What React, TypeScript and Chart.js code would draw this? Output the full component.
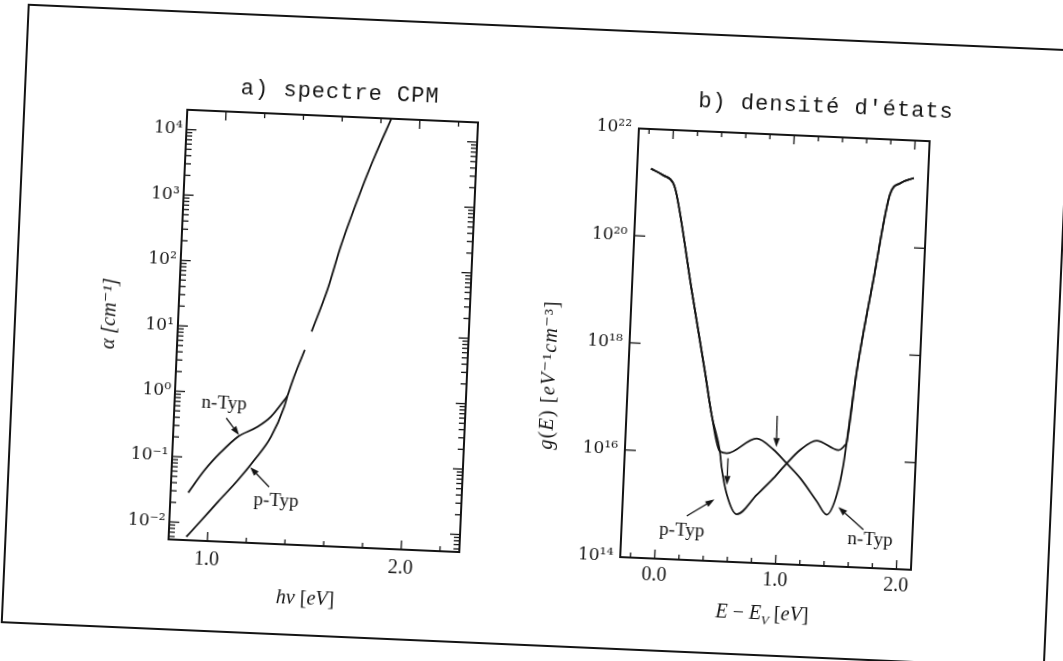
import React, { useEffect, useRef } from "react";
import { Chart, registerables } from "chart.js";

Chart.register(...registerables);

// ---------------- Panel a) spectre CPM ----------------
const cpmNTypEnergy = [0.891, 0.97, 1.052, 1.134, 1.234, 1.3, 1.365, 1.38];
const cpmNTypAlpha = [0.0288, 0.065, 0.127, 0.221, 0.324, 0.471, 0.863, 1.0];
const cpmPTypEnergy = [0.891, 0.965, 1.046, 1.144, 1.224, 1.305, 1.366, 1.38];
const cpmPTypAlpha = [0.00607, 0.0111, 0.0218, 0.0482, 0.1, 0.233, 0.681, 1.0];
const cpmCommonEnergy = [1.38, 1.41, 1.459, 1.475, 1.49, 1.562, 1.621, 1.726, 1.779, 1.853];
const cpmCommonAlpha = [1.0, 1.99, 5.18, null, 10.0, 44.2, 209, 2000, 5500, 20000];

const cpmXTicks = [1.0, 2.0];
const cpmXTickLabels = ["1.0", "2.0"];
const cpmXMinorTicks = [1.2, 1.4, 1.6, 1.8, 2.2];
const cpmYTicks = [1e-2, 1e-1, 1, 10, 100, 1000, 1e4];
const cpmYTickLabels = ["10⁻²", "10⁻¹", "10⁰", "10¹", "10²", "10³", "10⁴"];

const cpmArrowFromE = [1.07, 1.306];
const cpmArrowFromA = [0.419, 0.0398];
const cpmArrowToE = [1.14, 1.204];
const cpmArrowToA = [0.235, 0.0776];
const cpmLabelText = ["n-Typ", "p-Typ"];
const cpmLabelE = [1.056, 1.345];
const cpmLabelA = [0.684, 0.0245];

// ---------------- Panel b) densité d'états ----------------
const dosValenceEnergy = [-0.171, -0.068, 0.018, 0.05, 0.209, 0.349, 0.42, 0.5];
const dosValenceG = [1.82e21, 1.41e21, 1.02e21, 6.3e20, 1.07e19, 3.24e17, 5.13e16, 1.12e16];
const dosPTypEnergy = [0.521, 0.573, 0.662, 0.82, 0.951, 1.056, 1.161, 1.296, 1.478, 1.531];
const dosPTypG = [5.5e15, 1.78e15, 7.8e14, 1.86e15, 3.9e15, 7.6e15, 1.38e16, 2.14e16, 1.48e16, 1.86e16];
const dosNTypEnergy = [0.557, 0.8, 0.94, 1.056, 1.172, 1.318, 1.405, 1.481, 1.524];
const dosNTypG = [1.05e16, 2.09e16, 1.35e16, 7.6e15, 4.17e15, 1.58e15, 9.1e14, 2.19e15, 7.8e15];
const dosConductionEnergy = [1.544, 1.6, 1.705, 1.811, 1.89, 2.003];
const dosConductionG = [2.14e16, 4.27e17, 2.29e19, 9.3e20, 1.55e21, 2.0e21];

const dosXTicks = [0, 1, 2];
const dosXTickLabels = ["0.0", "1.0", "2.0"];
const dosXMinorTicks = [-0.2, 0.2, 0.4, 0.6, 0.8, 1.2, 1.4, 1.6, 1.8];
const dosYTicks = [1e14, 1e16, 1e18, 1e20, 1e22];
const dosYTickLabels = ["10¹⁴", "10¹⁶", "10¹⁸", "10²⁰", "10²²"];

const dosArrowFromE = [0.96, 0.57, 0.25, 1.713];
const dosArrowFromG = [5.75e16, 8.5e15, 6.6e14, 5.1e14];
const dosArrowToE = [0.965, 0.57, 0.472, 1.498];
const dosArrowToG = [1.5e16, 2.7e15, 1.41e15, 1.29e15];
const dosLabelText = ["p-Typ", "n-Typ"];
const dosLabelE = [0.214, 1.772];
const dosLabelG = [3.5e14, 3.3e14];

const INK = "#141414";
const SERIF = "'Liberation Serif', 'DejaVu Serif', serif";
const SERIF_SUP = "'DejaVu Serif', 'Liberation Serif', serif";

type Decor = {
  name: string;
  xMajor: number[];
  xMinor: number[];
  yMajor: number[];
  yMinor: number[];
  xMajorLen: number;
  xMinorLen: number;
  yMajorLen: number;
  yMinorLen: number;
  arrows: { fx: number; fy: number; tx: number; ty: number }[];
  labels: { text: string; x: number; y: number }[];
};

function decorPlugin(d: Decor) {
  return {
    id: "decor_" + d.name,
    afterDatasetsDraw(chart: any) {
      const { ctx, chartArea: a } = chart;
      const xs = chart.scales.x;
      const ys = chart.scales.y;
      ctx.save();
      ctx.strokeStyle = INK;
      ctx.fillStyle = INK;
      const seg = (x1: number, y1: number, x2: number, y2: number) => {
        ctx.beginPath();
        ctx.moveTo(x1, y1);
        ctx.lineTo(x2, y2);
        ctx.stroke();
      };
      ctx.lineWidth = 1.3;
      const xt = (vals: number[], len: number) =>
        vals.forEach((v) => {
          const p = xs.getPixelForValue(v);
          if (p < a.left + 1 || p > a.right - 1) return;
          seg(p, a.bottom, p, a.bottom - len);
          seg(p, a.top, p, a.top + len);
        });
      const yt = (vals: number[], len: number) =>
        vals.forEach((v) => {
          const p = ys.getPixelForValue(v);
          if (p < a.top + 1 || p > a.bottom - 1) return;
          seg(a.left, p, a.left + len, p);
          seg(a.right, p, a.right - len, p);
        });
      xt(d.xMajor, d.xMajorLen);
      xt(d.xMinor, d.xMinorLen);
      yt(d.yMajor, d.yMajorLen);
      yt(d.yMinor, d.yMinorLen);
      ctx.lineWidth = 2;
      ctx.strokeRect(a.left, a.top, a.right - a.left, a.bottom - a.top);

      // arrows
      ctx.lineWidth = 1.3;
      d.arrows.forEach((ar) => {
        const x1 = xs.getPixelForValue(ar.fx);
        const y1 = ys.getPixelForValue(ar.fy);
        const x2 = xs.getPixelForValue(ar.tx);
        const y2 = ys.getPixelForValue(ar.ty);
        const ang = Math.atan2(y2 - y1, x2 - x1);
        const hl = 9;
        const hw = 3.2;
        const bx = x2 - hl * Math.cos(ang);
        const by = y2 - hl * Math.sin(ang);
        seg(x1, y1, bx, by);
        ctx.beginPath();
        ctx.moveTo(x2, y2);
        ctx.lineTo(bx + hw * Math.sin(ang), by - hw * Math.cos(ang));
        ctx.lineTo(bx - hw * Math.sin(ang), by + hw * Math.cos(ang));
        ctx.closePath();
        ctx.fill();
      });

      ctx.font = `19px ${SERIF}`;
      ctx.textAlign = "center";
      ctx.textBaseline = "middle";
      d.labels.forEach((lb) => {
        ctx.fillText(lb.text, xs.getPixelForValue(lb.x), ys.getPixelForValue(lb.y));
      });
      ctx.restore();
    },
  };
}

function pts(xs: number[], ys: (number | null)[]) {
  return xs.map((x, i) => ({ x, y: ys[i] }));
}

function lineDs(label: string, data: any[]) {
  return {
    label,
    data,
    borderColor: INK,
    borderWidth: 1.8,
    pointRadius: 0,
    fill: false,
    cubicInterpolationMode: "monotone" as const,
    spanGaps: false,
  };
}

function baseConfig(opts: {
  datasets: any[];
  xMin: number;
  xMax: number;
  yMin: number;
  yMax: number;
  xTicks: number[];
  xTickLabels: string[];
  yTicks: number[];
  yTickLabels: string[];
  yWidth: number;
  xHeight: number;
  padding: any;
  xPad: number;
  yPad: number;
  plugin: any;
}) {
  return {
    type: "line" as const,
    data: { datasets: opts.datasets },
    options: {
      responsive: false,
      animation: false as const,
      events: [],
      layout: { padding: opts.padding },
      plugins: {
        legend: { display: false },
        tooltip: { enabled: false },
        title: { display: false },
      },
      scales: {
        x: {
          type: "linear" as const,
          min: opts.xMin,
          max: opts.xMax,
          grid: { display: false, drawTicks: false },
          border: { display: false },
          afterBuildTicks: (s: any) => {
            s.ticks = opts.xTicks.map((v) => ({ value: v }));
          },
          afterFit: (s: any) => {
            s.height = opts.xHeight;
          },
          ticks: {
            autoSkip: false,
            maxRotation: 0,
            padding: opts.xPad,
            color: INK,
            font: { family: SERIF, size: 20 },
            callback: (_v: any, i: number) => opts.xTickLabels[i],
          },
        },
        y: {
          type: "logarithmic" as const,
          min: opts.yMin,
          max: opts.yMax,
          grid: { display: false, drawTicks: false },
          border: { display: false },
          afterBuildTicks: (s: any) => {
            s.ticks = opts.yTicks.map((v) => ({ value: v }));
          },
          afterFit: (s: any) => {
            s.width = opts.yWidth;
          },
          ticks: {
            autoSkip: false,
            padding: opts.yPad,
            color: INK,
            font: { family: SERIF_SUP, size: 17 },
            callback: (_v: any, i: number) => opts.yTickLabels[i],
          },
        },
      },
    },
    plugins: [opts.plugin],
  };
}

function minorLogTicks(lo: number, hi: number) {
  const out: number[] = [];
  for (let d = lo; d <= hi; d++) {
    for (let m = 2; m <= 9; m++) out.push(m * Math.pow(10, d));
  }
  return out;
}

export default function App() {
  const leftRef = useRef<HTMLCanvasElement>(null);
  const rightRef = useRef<HTMLCanvasElement>(null);

  useEffect(() => {
    const leftCfg: any = baseConfig({
      datasets: [
        lineDs("n-Typ", pts(cpmNTypEnergy, cpmNTypAlpha)),
        lineDs("p-Typ", pts(cpmPTypEnergy, cpmPTypAlpha)),
        lineDs("commun", pts(cpmCommonEnergy, cpmCommonAlpha)),
      ],
      xMin: 0.8,
      xMax: 2.3,
      yMin: 5.4e-3,
      yMax: 2.0e4,
      xTicks: cpmXTicks,
      xTickLabels: cpmXTickLabels,
      yTicks: cpmYTicks,
      yTickLabels: cpmYTickLabels,
      yWidth: 118,
      xHeight: 75,
      padding: { left: 0, right: 31, top: 65, bottom: 0 },
      xPad: 7,
      yPad: 4,
      plugin: decorPlugin({
        name: "cpm",
        xMajor: cpmXTicks,
        xMinor: cpmXMinorTicks,
        yMajor: cpmYTicks,
        yMinor: minorLogTicks(-3, 4),
        xMajorLen: 9,
        xMinorLen: 5,
        yMajorLen: 10,
        yMinorLen: 6,
        arrows: cpmArrowFromE.map((e, i) => ({
          fx: e,
          fy: cpmArrowFromA[i],
          tx: cpmArrowToE[i],
          ty: cpmArrowToA[i],
        })),
        labels: cpmLabelText.map((t, i) => ({ text: t, x: cpmLabelE[i], y: cpmLabelA[i] })),
      }),
    });

    const rightCfg: any = baseConfig({
      datasets: [
        lineDs(
          "n-Typ",
          pts(
            [...dosValenceEnergy, ...dosNTypEnergy, ...dosConductionEnergy],
            [...dosValenceG, ...dosNTypG, ...dosConductionG]
          )
        ),
        lineDs(
          "p-Typ",
          pts(
            [...dosValenceEnergy, ...dosPTypEnergy, ...dosConductionEnergy],
            [...dosValenceG, ...dosPTypG, ...dosConductionG]
          )
        ),
      ],
      xMin: -0.285,
      xMax: 2.12,
      yMin: 1e14,
      yMax: 1e22,
      xTicks: dosXTicks,
      xTickLabels: dosXTickLabels,
      yTicks: dosYTicks,
      yTickLabels: dosYTickLabels,
      yWidth: 90,
      xHeight: 77,
      padding: { left: 0, right: 79, top: 64, bottom: 0 },
      xPad: 5,
      yPad: 7,
      plugin: decorPlugin({
        name: "dos",
        xMajor: dosXTicks,
        xMinor: dosXMinorTicks,
        yMajor: dosYTicks,
        yMinor: [],
        xMajorLen: 9,
        xMinorLen: 5,
        yMajorLen: 11,
        yMinorLen: 0,
        arrows: dosArrowFromE.map((e, i) => ({
          fx: e,
          fy: dosArrowFromG[i],
          tx: dosArrowToE[i],
          ty: dosArrowToG[i],
        })),
        labels: dosLabelText.map((t, i) => ({ text: t, x: dosLabelE[i], y: dosLabelG[i] })),
      }),
    });

    const c1 = new Chart(leftRef.current as HTMLCanvasElement, leftCfg);
    const c2 = new Chart(rightRef.current as HTMLCanvasElement, rightCfg);
    return () => {
      c1.destroy();
      c2.destroy();
    };
  }, []);

  const mono: React.CSSProperties = {
    position: "absolute",
    fontFamily: "'Liberation Mono', 'DejaVu Sans Mono', monospace",
    fontSize: 22,
    letterSpacing: 1,
    color: INK,
    textAlign: "center",
    whiteSpace: "nowrap",
    height: 28,
    lineHeight: "28px",
  };
  const axisTitle: React.CSSProperties = {
    position: "absolute",
    fontFamily: SERIF,
    fontSize: 20,
    color: INK,
    textAlign: "center",
    whiteSpace: "nowrap",
    height: 26,
    lineHeight: "26px",
  };

  return (
    <div
      style={{
        position: "fixed",
        left: 0,
        top: 0,
        width: 1063,
        height: 661,
        background: "#fff",
        transform: "rotate(2.5deg)",
        transformOrigin: "531.5px 330.5px",
      }}
    >
      <div
        style={{
          position: "absolute",
          left: 14,
          top: 26,
          width: 1045,
          height: 620,
          border: `2px solid ${INK}`,
          boxSizing: "border-box",
        }}
      />
      <canvas
        ref={leftRef}
        width={440}
        height={570}
        style={{ position: "absolute", left: 60, top: 60, width: 440, height: 570 }}
      />
      <canvas
        ref={rightRef}
        width={460}
        height={570}
        style={{ position: "absolute", left: 540, top: 60, width: 460, height: 570 }}
      />

      <div style={{ ...mono, left: 130, width: 400, top: 88 }}>a) spectre CPM</div>
      <div style={{ ...mono, left: 616, width: 400, top: 81 }}>b) densité d'états</div>

      <div
        style={{
          ...axisTitle,
          left: 8,
          top: 319,
          width: 200,
          transform: "rotate(-90deg)",
          fontStyle: "italic",
        }}
      >
        α [cm⁻¹]
      </div>
      <div
        style={{
          ...axisTitle,
          left: 430,
          top: 361,
          width: 240,
          letterSpacing: 1.2,
          transform: "rotate(-90deg)",
        }}
      >
        <i>g</i>(<i>E</i>) [<i>eV</i>⁻¹<i>cm</i>⁻³]
      </div>
      <div style={{ ...axisTitle, left: 167, width: 300, top: 594 }}>
        <i>hν</i> [<i>eV</i>]
      </div>
      <div style={{ ...axisTitle, left: 624, width: 300, top: 589 }}>
        <i>E</i> − <i>E</i>
        <sub style={{ fontSize: 13, fontStyle: "italic" }}>V</sub> [<i>eV</i>]
      </div>
    </div>
  );
}
